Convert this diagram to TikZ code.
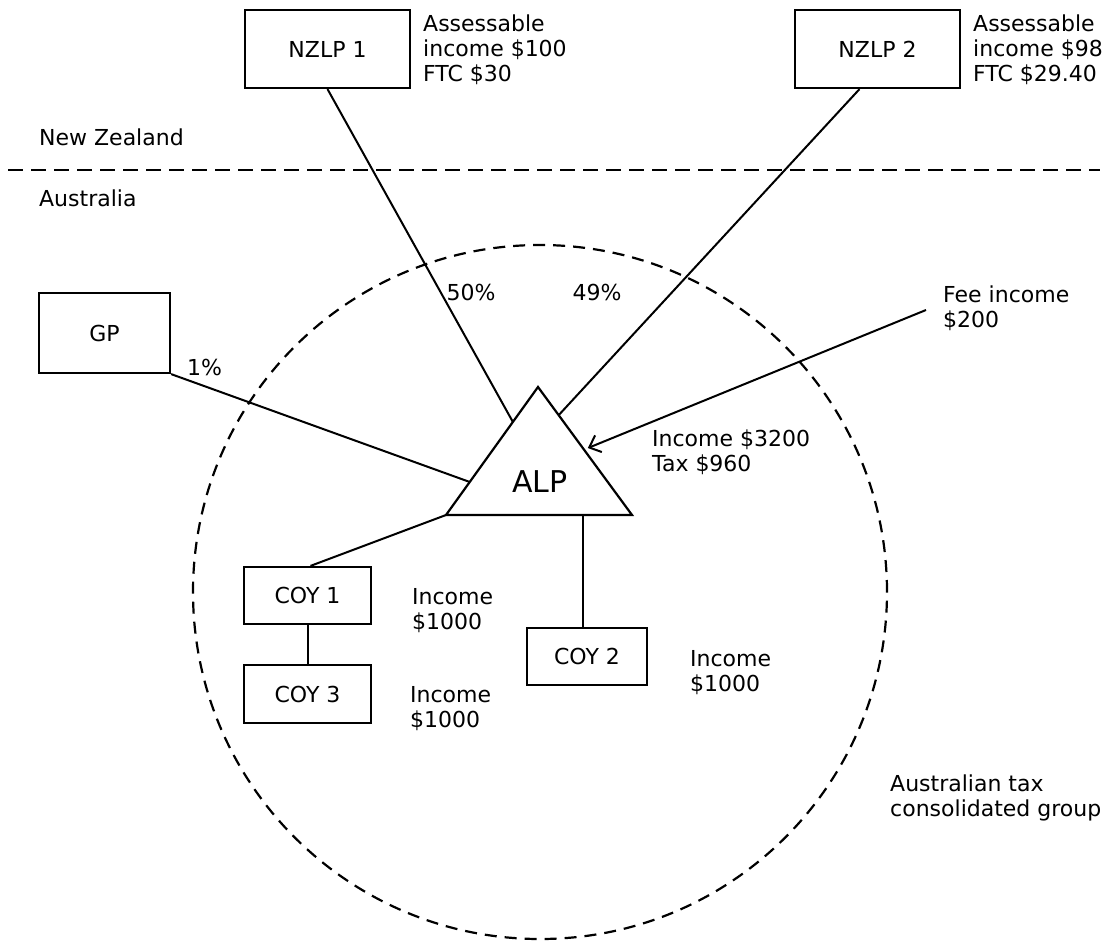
\documentclass[tikz,border=0pt]{standalone}
\usepackage{fontspec}
\setmainfont{DejaVu Sans}
\usetikzlibrary{arrows.meta}

\begin{document}
\begin{tikzpicture}[x=1pt, y=-1pt,
    every node/.style={font=\fontsize{22}{25}\selectfont, inner sep=0pt},
    entity/.style={draw, line width=2.2pt},
    note/.style={align=left, anchor=north west},
    link/.style={line width=2pt},
    border/.style={line width=2.2pt, dash pattern=on 15pt off 8pt}]
    \useasboundingbox (0,0) rectangle (1106,944);
    % countries
    \draw[border] (8,170) -- (1100,170);
    \node[anchor=base west] (nz) at (39,146) {New Zealand};
    \node[anchor=base west] (au) at (39,207) {Australia};
    \draw[border, dash pattern=on 12pt off 8pt] (540,592) circle [radius=347pt];
    \node[note] (grouptxt) at (890,775) {Australian tax\\consolidated group};
    % partners
    \node[entity, minimum width=165pt, minimum height=78pt] (nzlp1) at (327.5,49) {NZLP 1};
    \node[entity, minimum width=165pt, minimum height=78pt] (nzlp2) at (877.5,49) {NZLP 2};
    \node[entity, minimum width=131pt, minimum height=80pt] (gp) at (104.5,333) {GP};
    \node[note] (nzlp1txt) at (423,15) {Assessable\\income \$100\\FTC \$30};
    \node[note] (nzlp2txt) at (973,15) {Assessable\\income \$98\\FTC \$29.40};
    % ALP triangle
    \coordinate (apex) at (538,387);
    \coordinate (bl) at (446,515);
    \coordinate (br) at (632,515);
    \draw[entity, line join=miter] (apex) -- (bl) -- (br) -- cycle;
    \path (apex) -- (bl) coordinate[pos=0.273] (inA) coordinate[pos=0.742] (inGP);
    \path (apex) -- (br) coordinate[pos=0.22] (inB) coordinate[pos=0.477] (inFee);
    \path (bl) -- (br) coordinate[pos=0.737] (outC);
    \node[font=\fontsize{30}{34}\selectfont, anchor=base] (alp) at (540,492) {ALP};
    \node[note] (alptxt) at (652,430) {Income \$3200\\Tax \$960};
    % ownership
    \draw[link] (nzlp1.south) -- (inA);
    \draw[link] ([xshift=-18pt]nzlp2.south) -- (inB);
    \draw[link] (gp.south east) -- (inGP);
    \node[anchor=base] (pct1) at (471,300) {50\%};
    \node[anchor=base] (pct2) at (597,300) {49\%};
    \node[anchor=base west] (pct3) at (187,375) {1\%};
    % fee income
    \coordinate (feeend) at (926,310);
    \node[note] (feetxt) at (943,286) {Fee income\\\$200};
    \draw[link, -{Straight Barb[length=10pt,width=18pt,line width=2pt]}] (feeend) -- ([xshift=5pt]inFee);
    % companies
    \node[entity, minimum width=127pt, minimum height=57pt] (coy1) at (307.5,595.5) {COY 1};
    \node[entity, minimum width=127pt, minimum height=58pt] (coy3) at (307.5,694) {COY 3};
    \node[entity, minimum width=120pt, minimum height=57pt] (coy2) at (587,656.5) {COY 2};
    \draw[link] ([xshift=3pt]coy1.north) -- (bl);
    \draw[link] (coy1.south) -- (coy3.north);
    \draw[link] (outC) -- (outC |- coy2.north);
    \node[note] (coy1txt) at (412,588) {Income\\\$1000};
    \node[note] (coy3txt) at (410,686) {Income\\\$1000};
    \node[note] (coy2txt) at (690,650) {Income\\\$1000};
\end{tikzpicture}
\end{document}
